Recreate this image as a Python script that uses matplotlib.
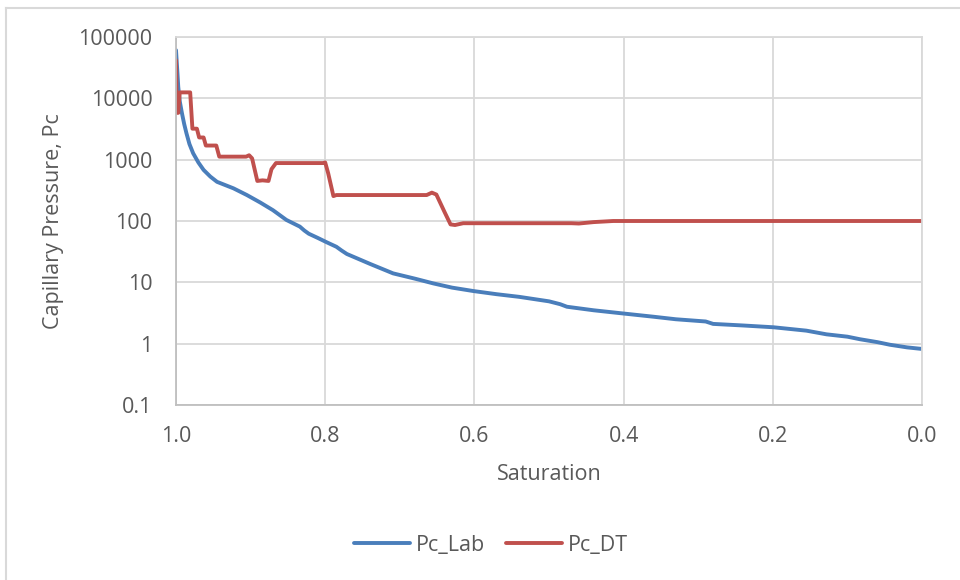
import matplotlib
matplotlib.use("Agg")
import matplotlib.pyplot as plt
from matplotlib.lines import Line2D

# ---- data ----
lab_sat = [1.000, 0.998, 0.997, 0.995, 0.992, 0.989, 0.986, 0.982, 0.977, 0.970,
           0.963, 0.954, 0.945, 0.923, 0.905, 0.887,
           0.870, 0.852, 0.834, 0.828, 0.822, 0.810, 0.798, 0.785, 0.778, 0.771,
           0.740, 0.709, 0.680, 0.655, 0.630, 0.601, 0.570, 0.540, 0.500, 0.485,
           0.476, 0.440, 0.400, 0.360, 0.330, 0.290, 0.280, 0.240, 0.199, 0.155,
           0.128, 0.100, 0.083, 0.060, 0.043, 0.020, 0.000]
lab_pc = [61000, 25000, 15500, 9000, 5700, 3800, 2700, 1800, 1270, 900,
          680, 530, 435, 341, 265, 200,
          150, 104, 81, 70, 62, 53, 45, 38, 33, 29,
          20, 14, 11.5, 9.6, 8.2, 7.2, 6.4, 5.8, 4.9, 4.4,
          4.0, 3.5, 3.1, 2.75, 2.5, 2.3, 2.1, 1.98, 1.85, 1.63,
          1.42, 1.30, 1.18, 1.06, 0.96, 0.87, 0.82]

dt_sat = [1.000, 0.999, 0.997, 0.995, 0.981, 0.978, 0.972, 0.969, 0.963, 0.960,
          0.946, 0.942, 0.906, 0.902, 0.898, 0.891, 0.884, 0.876, 0.872, 0.866,
          0.803, 0.800, 0.796, 0.789, 0.785, 0.700, 0.664, 0.657, 0.651, 0.640,
          0.632, 0.626, 0.615, 0.520, 0.470, 0.460, 0.440, 0.414, 0.300, 0.000]
dt_pc = [42000, 5800, 5800, 12500, 12500, 3200, 3200, 2300, 2300, 1700,
         1700, 1120, 1120, 1180, 1050, 450, 460, 450, 700, 880,
         880, 900, 600, 255, 265, 265, 265, 290, 270, 140,
         88, 86, 92, 92, 92, 91, 96, 100, 100, 100]

yticks = [0.1, 1, 10, 100, 1000, 10000, 100000]
ytick_labels = ["0.1", "1", "10", "100", "1000", "10000", "100000"]
xticks = [1.0, 0.8, 0.6, 0.4, 0.2, 0.0]
xtick_labels = ["1.0", "0.8", "0.6", "0.4", "0.2", "0.0"]

blue = "#4A7EBB"
red = "#C0504D"
txt = "#595959"
grid = "#D9D9D9"

plt.rcParams['font.family'] = ['Open Sans', 'DejaVu Sans']
fs = 15.5

fig = plt.figure(figsize=(9.6, 5.8), dpi=100)
ax = fig.add_axes([176/960, 1-405/580, (922-176)/960, (405-37)/580])

ax.plot(lab_sat, lab_pc, color=blue, lw=2.8, label="Pc_Lab", solid_joinstyle="round", solid_capstyle="round")
ax.plot(dt_sat, dt_pc, color=red, lw=2.8, label="Pc_DT", solid_joinstyle="round", solid_capstyle="round")

ax.set_yscale("log")
ax.set_ylim(0.1, 100000)
ax.set_xlim(1.0, 0.0)
ax.set_yticks(yticks)
ax.set_yticklabels(ytick_labels)
ax.yaxis.set_minor_locator(matplotlib.ticker.NullLocator())
ax.set_xticks(xticks)
ax.set_xticklabels(xtick_labels)
ax.tick_params(axis="both", length=0, labelsize=fs, colors=txt)
ax.tick_params(axis="y", pad=17)
ax.tick_params(axis="x", pad=15)
ax.grid(True, color=grid, lw=1.3)
ax.set_axisbelow(True)
for s in ax.spines.values():
    s.set_color(grid)
    s.set_linewidth(1.3)
ax.spines["left"].set_color("#BFBFBF")
ax.spines["bottom"].set_color("#BFBFBF")

ax.set_xlabel("Saturation", fontsize=fs, color=txt, labelpad=12)
ax.set_ylabel("Capillary Pressure, Pc", fontsize=fs, color=txt, labelpad=10)

fig.legend(loc="center", bbox_to_anchor=(491/960, 1-545/580), ncol=2, frameon=False,
           fontsize=fs, handlelength=2.6, handletextpad=0.25, columnspacing=1.0,
           labelcolor=txt)

# outer chart border (partially visible)
fig.add_artist(Line2D([6/960, 6/960], [0, 1-8/580], transform=fig.transFigure, color=grid, lw=1.5))
fig.add_artist(Line2D([6/960, 1], [1-8/580, 1-8/580], transform=fig.transFigure, color=grid, lw=1.5))

fig.savefig("out.png", dpi=100, facecolor="white")
